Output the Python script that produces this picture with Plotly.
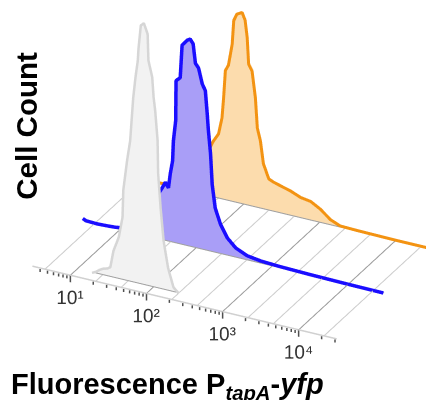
import plotly.graph_objects as go

# ---------------- data ----------------
# Fluorescence (a.u.) bin positions and cell counts for each population
gray_fluor = [15.8, 17.8, 20.0, 22.4, 25.1, 27.5, 30.2, 35.5, 39.8, 40.7, 45.7, 50.1,
              55.0, 58.9, 63.1, 64.6, 69.2, 75.9, 85.1, 87.1, 97.7, 102, 107, 115,
              117, 126, 138, 158, 186, 219]
gray_counts = [0, 2, 5, 7, 8, 10, 27, 42, 63, 90, 121, 141,
               185, 206, 223, 236, 259, 262, 252, 226, 210, 190, 177, 148,
               115, 81, 49, 23, 5, 0]

blue_fluor = [3.31, 3.63, 5.01, 7.08, 8.91, 12.6, 17.8, 25.1, 31.6, 36.3, 40.3, 44.2,
              46.8, 50.1, 51.3, 55.0, 55.6, 63.1, 66.8, 77.6, 85.1, 93.3, 100, 110,
              123, 135, 143, 148, 158, 166, 182, 214, 263, 339, 479, 724, 1259,
              3162, 10000, 29500]
blue_counts = [3, 1.5, 1, 1.5, 2, 4, 10, 28, 44, 52, 59, 54,
               69, 82, 102, 123, 163, 167, 200, 206, 208, 204, 185, 181,
               166, 160, 137, 121, 98, 68, 45, 30, 18, 10, 5, 3, 2,
               1.2, 0.6, 0.3]

orange_fluor = [3.55, 8.71, 12.6, 17.8, 25.1, 31.6, 39.4, 41.3, 47.9, 53.2, 55.8, 58.9,
                64.6, 72.4, 75.9, 83.2, 97.7, 107, 114, 119, 132, 146, 155, 170,
                186, 219, 251, 309, 427, 575, 776, 1047, 1413, 1905, 3162, 10000, 30200]
orange_counts = [1, 2, 4, 9, 22, 38, 54, 57, 65, 82, 102, 130,
                 136, 158, 182, 189, 192, 185, 168, 142, 136, 110, 80, 68,
                 46, 32, 30, 28, 25, 21, 19.5, 14, 6, 2, 1.5, 1, 1]

# Axis: fluorescence tick values and labels
axis_start = 3.16
axis_end = 31623
major_ticks = [10, 100, 1000, 10000]
tick_labels = ["10¹", "10²", "10³", "10⁴"]
minor_ticks = [4, 5, 6, 7, 8, 9,
               20, 30, 40, 50, 60, 70, 80, 90,
               200, 300, 400, 500, 600, 700, 800, 900,
               2000, 3000, 4000, 5000, 6000, 7000, 8000, 9000,
               20000, 30000]
grid_major = [10, 100, 1000, 10000]
grid_minor = [4.64, 21.5, 46.4, 215, 464, 2154, 4642, 21544]

# ---------------- style / layout ----------------
DEPTH = {"gray": 0.15, "blue": 1.0, "orange": 1.95}
FLOOR_BACK = 1.95
STYLE = {
    "gray": dict(fill="#f2f2f2", line="#d6d6d6", width=5),
    "blue": dict(fill="#a99ef7", line="#1a0dff", width=7),
    "orange": dict(fill="#fcdcad", line="#f39312", width=6),
}

traces = []


def seg_trace(xs0, ys0, zs0, xs1, ys1, zs1, color, width):
    X, Y, Z = [], [], []
    for a, b, c, d, e, f in zip(xs0, ys0, zs0, xs1, ys1, zs1):
        X += [a, d, None]
        Y += [b, e, None]
        Z += [c, f, None]
    return go.Scatter3d(x=X, y=Y, z=Z, mode="lines", hoverinfo="skip",
                        line=dict(color=color, width=width), connectgaps=False)


# floor grid lines (from front axis to the back histogram baseline)
traces.append(seg_trace(grid_minor, [0] * len(grid_minor), [0] * len(grid_minor),
                        grid_minor, [FLOOR_BACK] * len(grid_minor), [0] * len(grid_minor),
                        "#cccccc", 2))
traces.append(seg_trace(grid_major, [0] * len(grid_major), [0] * len(grid_major),
                        grid_major, [FLOOR_BACK] * len(grid_major), [0] * len(grid_major),
                        "#9a9a9a", 2))

# front axis line
traces.append(go.Scatter3d(x=[axis_start, axis_end], y=[0, 0], z=[0, 0], mode="lines",
                           hoverinfo="skip", line=dict(color="#d0d0d0", width=3)))
# ticks
traces.append(seg_trace(major_ticks, [0] * 4, [0] * 4, major_ticks, [0] * 4, [-7] * 4,
                        "#505050", 3))
traces.append(seg_trace(minor_ticks, [0] * len(minor_ticks), [-1] * len(minor_ticks),
                        minor_ticks, [0] * len(minor_ticks), [-4] * len(minor_ticks),
                        "#505050", 3))
# tick labels
traces.append(go.Scatter3d(x=major_ticks, y=[0] * 4, z=[-22] * 4, mode="text",
                           text=tick_labels, hoverinfo="skip",
                           textposition="middle center",
                           textfont=dict(size=19, color="#333333",
                                         family="Liberation Sans")))


def histogram(name, xs, counts):
    d = DEPTH[name]
    st = STYLE[name]
    n = len(xs)
    vx = list(xs) + list(xs)
    vy = [d] * (2 * n)
    vz = [0] * n + list(counts)
    I, J, K = [], [], []
    for m in range(n - 1):
        I += [m, m]
        J += [m + 1, n + m + 1]
        K += [n + m + 1, n + m]
    out = [go.Mesh3d(x=vx, y=vy, z=vz, i=I, j=J, k=K, color=st["fill"], opacity=1,
                     flatshading=True, hoverinfo="skip",
                     lighting=dict(ambient=1, diffuse=0, specular=0, roughness=1,
                                   fresnel=0))]
    # baseline of the histogram
    out.append(go.Scatter3d(x=[xs[0], xs[-1]], y=[d - 0.01] * 2, z=[0.3, 0.3],
                            mode="lines", hoverinfo="skip",
                            line=dict(color="#a0a0a0", width=2)))
    out.append(go.Scatter3d(x=list(xs), y=[d - 0.02] * n, z=list(counts), mode="lines",
                            hoverinfo="skip",
                            line=dict(color=st["line"], width=st["width"])))
    return out


traces += histogram("orange", orange_fluor, orange_counts)
traces += histogram("blue", blue_fluor, blue_counts)
traces += histogram("gray", gray_fluor, gray_counts)

fig = go.Figure(traces)

K = 200.0
X_RANGE = [0.5, 4.671]
Y_RANGE = [-0.64, 2.0]
Z_RANGE = [-140.4, 270]
fig.update_layout(
    width=434, height=400,
    margin=dict(l=0, r=0, t=0, b=0),
    paper_bgcolor="white",
    showlegend=False,
    hovermode=False,
    scene=dict(
        domain=dict(x=[0, 1], y=[0, 1]),
        xaxis=dict(type="log", range=X_RANGE, visible=False),
        yaxis=dict(range=Y_RANGE, visible=False),
        zaxis=dict(range=Z_RANGE, visible=False),
        aspectmode="manual",
        aspectratio=dict(x=(X_RANGE[1] - X_RANGE[0]) * 85.4 / K,
                         y=(Y_RANGE[1] - Y_RANGE[0]) * 110.0 / K,
                         z=(Z_RANGE[1] - Z_RANGE[0]) / 0.883 / K),
        camera=dict(eye=dict(x=1.0025, y=-1.9675, z=1.1725),
                    up=dict(x=0, y=0, z=1), center=dict(x=0, y=0, z=0),
                    projection=dict(type="orthographic")),
        bgcolor="white",
        dragmode=False,
    ),
    annotations=[
        dict(text="<b>Cell Count</b>", x=0.044, y=0.706, xref="paper", yref="paper",
             showarrow=False, textangle=-90, xanchor="center", yanchor="middle",
             font=dict(size=29.5, color="black", family="Liberation Sans")),
        dict(text="<b>Fluorescence P<sub><i>tapA</i></sub>-<i>yfp</i></b>",
             x=0.003, y=0.055, xref="paper", yref="paper", showarrow=False,
             xanchor="left", yanchor="middle",
             font=dict(size=29, color="black", family="Liberation Sans")),
    ],
)

fig.write_html("out.html", config={"displayModeBar": False})
